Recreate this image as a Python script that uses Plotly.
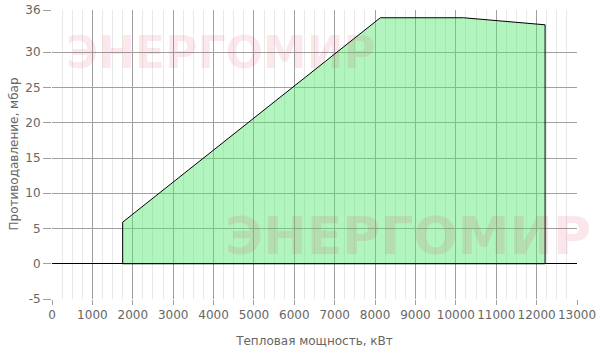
import plotly.graph_objects as go

# Working field polygon (heat output kW vs back pressure mbar)
power_kw = [1750, 1750, 8130, 10190, 12210, 12210, 1750]
back_pressure_mbar = [0, 5.9, 34.9, 34.9, 33.9, 0, 0]

x_ticks = list(range(0, 13001, 1000))
y_ticks = [-5, 0, 5, 10, 15, 20, 25, 30, 36]

watermark_text = "ЭНЕРГОМИР"

fig = go.Figure()

fig.add_trace(go.Scatter(
    x=power_kw, y=back_pressure_mbar,
    mode="lines", fill="toself",
    fillcolor="rgba(85,230,110,0.45)",
    line=dict(color="black", width=1),
    hoverinfo="skip", showlegend=False,
))

font_family = "DejaVu Sans"

fig.update_layout(
    width=600, height=350,
    margin=dict(l=52, r=23, t=10, b=51),
    paper_bgcolor="white", plot_bgcolor="white",
    font=dict(family=font_family, size=12, color="#666"),
    xaxis=dict(
        range=[0, 13000], tickvals=x_ticks, ticktext=[str(v) for v in x_ticks],
        showgrid=True, gridcolor="#a0a0a0", gridwidth=1,
        minor=dict(dtick=250, showgrid=True, gridcolor="#e8e8e8", gridwidth=1,
                   ticks="", ticklen=0),
        ticks="outside", ticklen=5, tickcolor="#a0a0a0",
        zeroline=False, showline=False, automargin=False,
        title=dict(text="Тепловая мощность, кВт", font=dict(size=12, color="#666")),
        tickfont=dict(size=12, color="#666"),
    ),
    yaxis=dict(
        range=[-5, 36], tickvals=y_ticks, ticktext=[str(v) for v in y_ticks],
        showgrid=True, gridcolor="#a0a0a0", gridwidth=1,
        ticks="outside", ticklen=8, tickcolor="#a0a0a0",
        zeroline=True, zerolinecolor="black", zerolinewidth=1,
        showline=False, automargin=False,
        tickfont=dict(size=12, color="#666"),
    ),
)

fig.add_annotation(
    text="Противодавление, мбар", xref="paper", yref="paper",
    x=(13 - 52) / 525, y=0.5, textangle=-90,
    showarrow=False, xanchor="center", yanchor="middle",
    font=dict(family=font_family, size=12, color="#666"),
)

fig.add_annotation(
    text=watermark_text, xref="paper", yref="paper",
    x=(221 - 52) / 525, y=(299 - 52) / 289,
    showarrow=False, xanchor="center", yanchor="middle",
    font=dict(family=font_family, size=44, color="rgba(220,20,60,0.10)", weight="bold"),
)
fig.add_annotation(
    text=watermark_text, xref="paper", yref="paper",
    x=(408 - 52) / 525, y=(299 - 236) / 289,
    showarrow=False, xanchor="center", yanchor="middle",
    font=dict(family=font_family, size=52, color="rgba(220,20,60,0.10)", weight="bold"),
)

fig.write_html("out.html")
